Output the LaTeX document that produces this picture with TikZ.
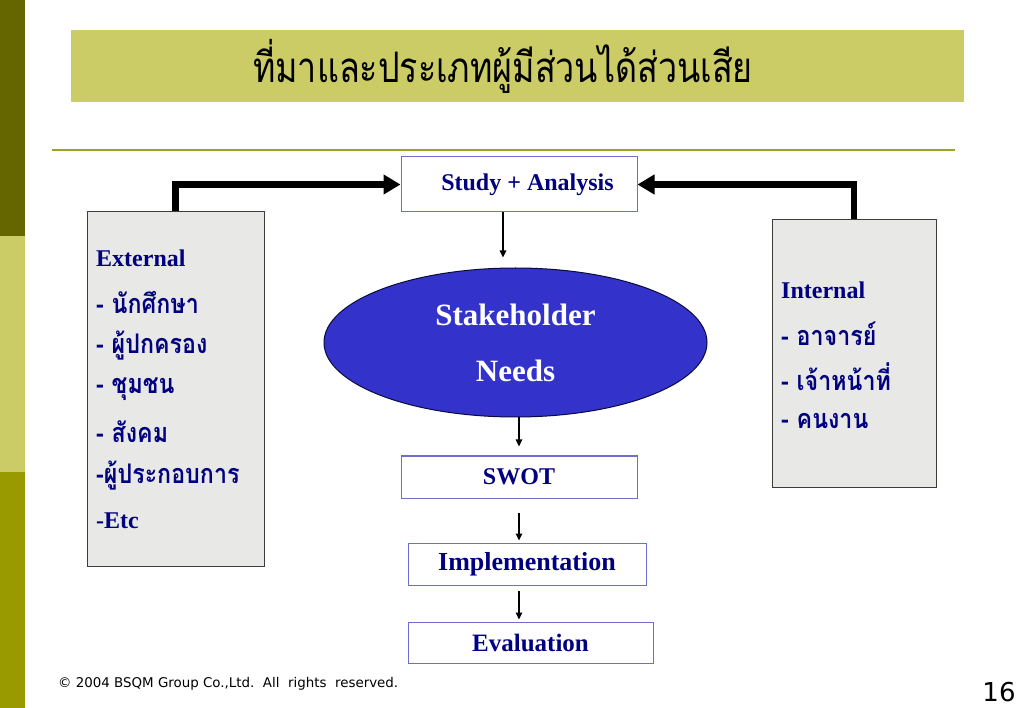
\documentclass[tikz,border=0pt]{standalone}
\usepackage{fontspec}
\setmainfont{Liberation Serif}
\newfontfamily\thaifont[Script=Thai]{Loma}
\newfontfamily\sansfont{DejaVu Sans}
\usetikzlibrary{arrows.meta,shapes.geometric}
\definecolor{stripeA}{RGB}{102,102,0}
\definecolor{stripeB}{RGB}{204,204,102}
\definecolor{stripeC}{RGB}{153,153,0}
\definecolor{titlebg}{RGB}{204,204,102}
\definecolor{ruleol}{RGB}{160,160,40}
\definecolor{navy}{RGB}{0,0,128}
\definecolor{boxblue}{RGB}{110,110,210}
\definecolor{ellfill}{RGB}{51,51,204}
\definecolor{ellline}{RGB}{10,10,60}
\definecolor{greyfill}{RGB}{232,232,230}
\definecolor{greyline}{RGB}{60,60,60}
\newcommand{\thl}[1]{\scalebox{0.86}[1]{#1}}
\tikzset{
  flowbox/.style={draw=boxblue, line width=1pt, fill=white, inner sep=0pt, text=navy, font=\bfseries\fontsize{24}{28}\selectfont},
  sidebox/.style={draw=greyline, line width=1pt, fill=greyfill, inner sep=0pt},
  sidetext/.style={anchor=west, inner sep=0pt, text=navy},
  engtext/.style={sidetext, font=\bfseries\fontsize{24}{28}\selectfont},
  thtext/.style={sidetext, font=\thaifont\bfseries\fontsize{27}{30}\selectfont},
  bigarrow/.style={line width=6.5pt, -{Triangle[length=17pt,width=19pt]}},
  thinarrow/.style={line width=1.2pt, -{Triangle[length=7pt,width=6.5pt]}},
}
\begin{document}
\begin{tikzpicture}[x=1pt,y=-1pt]
\useasboundingbox (0,0) rectangle (1023,708);
\fill[white] (0,0) rectangle (1023,708);
% left stripe
\fill[stripeA] (0,0) rectangle (25,236);
\fill[stripeB] (0,236) rectangle (25,472);
\fill[stripeC] (0,472) rectangle (25,708);
% title bar
\fill[titlebg] (71,30) rectangle (964,102);
\node[inner sep=0pt, font=\thaifont\fontsize{42}{46}\selectfont] (title) at (503,66) {\scalebox{0.81}[1]{ที่มาและประเภทผู้มีส่วนได้ส่วนเสีย}};
\draw[ruleol, line width=2pt] (52,150) -- (955,150);

% flow
\node[flowbox, minimum width=236pt, minimum height=55pt] (study) at (519,184.5) {\hspace*{17pt}Study + Analysis};
\node[ellipse, draw=ellline, line width=1pt, fill=ellfill, minimum width=383pt, minimum height=149pt, inner sep=0pt, text=white, align=center, font=\bfseries\fontsize{31}{56}\selectfont] (needs) at (515.5,342.5) {Stakeholder\\Needs};
\node[flowbox, minimum width=236pt, minimum height=42pt] (swot) at (519,477) {SWOT};
\node[flowbox, minimum width=238pt, minimum height=42pt, font=\bfseries\fontsize{26}{28}\selectfont] (impl) at (527,564) {Implementation};
\node[flowbox, minimum width=245pt, minimum height=41pt, font=\bfseries\fontsize{25}{28}\selectfont] (eval) at (530.5,642.5) {Evaluation};

% side boxes
\node[sidebox, minimum width=177pt, minimum height=354pt] (ext) at (175.5,389) {};
\node[sidebox, minimum width=164pt, minimum height=267pt] (int) at (854,353.5) {};

\node[engtext] (e0) at (96,258) {External};
\node[thtext] (e1) at (96,302) {\thl{- นักศึกษา}};
\node[thtext] (e2) at (96,346) {\thl{- ผู้ปกครอง}};
\node[thtext] (e3) at (96,389) {\thl{- ชุมชน}};
\node[thtext] (e4) at (96,432) {\thl{- สังคม}};
\node[thtext] (e5) at (96,476) {\thl{-ผู้ประกอบการ}};
\node[engtext] (e6) at (96,521) {-Etc};

\node[engtext] (i0) at (781,290) {Internal};
\node[thtext] (i1) at (781,334) {\thl{- อาจารย์}};
\node[thtext] (i2) at (781,377) {\thl{- เจ้าหน้าที่}};
\node[thtext] (i3) at (781,421) {\thl{- คนงาน}};

% connectors
\draw[bigarrow] (ext.north) |- (study.west);
\draw[bigarrow] (int.north) |- (study.east);
\draw[thinarrow] ([xshift=-16pt]study.south) -- ([xshift=-12.5pt,yshift=10pt]needs.north);
\draw[thinarrow] ([xshift=3.5pt]needs.south) -- ([yshift=9pt]swot.north);
\draw[thinarrow] ([yshift=-14pt]swot.south) -- ([xshift=-8pt,yshift=2pt]impl.north);
\draw[thinarrow] ([xshift=-8pt,yshift=-5pt]impl.south) -- ([xshift=-11.5pt,yshift=2pt]eval.north);

% footer
\node[anchor=west, inner sep=0pt, font=\sansfont\fontsize{13.4}{15}\selectfont] (copy) at (58,684) {© 2004 BSQM Group Co.,Ltd.\ \ All\ \ rights\ \ reserved.};
\node[inner sep=0pt, font=\sansfont\fontsize{26}{30}\selectfont] (page) at (999,692) {16};
\end{tikzpicture}
\end{document}
